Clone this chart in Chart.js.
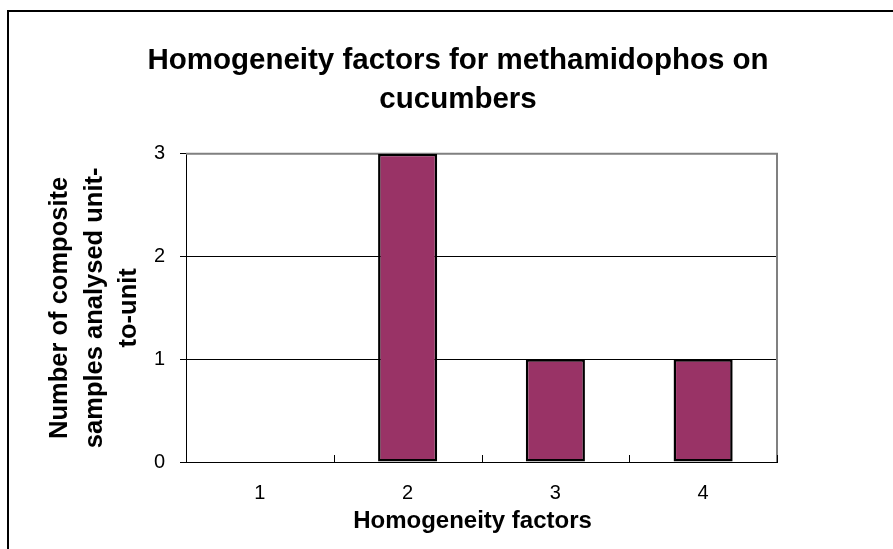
<!DOCTYPE html>
<html lang="en">
<head>
    <meta charset="UTF-8">
    <title>Homogeneity factors</title>
    <script src="https://cdn.jsdelivr.net/npm/chart.js"></script>
    <style>
        html, body { margin: 0; padding: 0; background: #fff; overflow: hidden; }
        /* outer frame of the chart object */
        #frame {
            position: absolute; left: 7px; top: 10px;
            width: 2000px; height: 2000px;
            border: 2px solid #000;
        }
        #myChart { position: absolute; left: 0; top: 0; }
    </style>
</head>
<body>
    <div id="frame"></div>
    <canvas id="myChart" width="893" height="549"></canvas>

    <script>
        // data
        const categories = ['1', '2', '3', '4'];
        const counts = [0, 3, 1, 1];
        const yTicks = [0, 1, 2, 3];

        const titleLines = ['Homogeneity factors for methamidophos on', 'cucumbers'];
        const xTitle = 'Homogeneity factors';
        const yTitleLines = ['Number of composite', 'samples analysed unit-', 'to-unit'];

        const FONT = 'Arial, "Liberation Sans", sans-serif';

        // gray plot border (top/right), inner tick marks between categories, x axis title
        const plotFrame = {
            id: 'plotFrame',
            beforeDatasetsDraw(chart) {
                const { ctx, chartArea: a } = chart;
                const xs = chart.scales.x;
                ctx.save();
                ctx.strokeStyle = '#808080';
                ctx.lineWidth = 2;
                ctx.beginPath();
                ctx.moveTo(a.left, a.top);
                ctx.lineTo(a.right, a.top);
                ctx.lineTo(a.right, a.bottom);
                ctx.stroke();

                ctx.strokeStyle = '#000';
                ctx.lineWidth = 1;
                const n = categories.length;
                const step = xs.getPixelForValue(1) - xs.getPixelForValue(0);
                ctx.beginPath();
                for (let i = 0; i <= n; i++) {
                    const x = Math.round(xs.getPixelForValue(0) - step / 2 + i * step) + 0.5;
                    ctx.moveTo(x, a.bottom);
                    ctx.lineTo(x, a.bottom - 7);
                }
                ctx.stroke();
                ctx.restore();
            },
            afterDraw(chart) {
                const { ctx, chartArea: a } = chart;
                ctx.save();
                ctx.fillStyle = '#000';
                ctx.font = 'bold 24px ' + FONT;
                ctx.textAlign = 'center';
                ctx.textBaseline = 'middle';
                ctx.fillText(xTitle, (a.left + a.right) / 2 - 9, a.bottom + 59);
                ctx.restore();
            }
        };

        const ctx = document.getElementById('myChart').getContext('2d');
        const myChart = new Chart(ctx, {
            type: 'bar',
            data: {
                labels: categories,
                datasets: [{
                    data: counts,
                    backgroundColor: '#993366',
                    borderColor: '#000',
                    borderWidth: 2.5,
                    borderSkipped: false,
                    barPercentage: 0.4,
                    categoryPercentage: 1
                }]
            },
            options: {
                responsive: false,
                animation: false,
                layout: { padding: { left: 23, right: 0, top: 0, bottom: 0 } },
                plugins: {
                    legend: { display: false },
                    tooltip: { enabled: false },
                    title: {
                        display: true,
                        text: titleLines,
                        color: '#000',
                        font: { family: FONT, size: 29.5, weight: 'bold', lineHeight: 1.3 },
                        padding: { top: 42, bottom: 35 }
                    }
                },
                scales: {
                    x: {
                        grid: { display: true, drawOnChartArea: false, drawTicks: false },
                        border: { color: '#000', width: 1 },
                        ticks: { color: '#000', padding: 19, font: { family: FONT, size: 20 } },
                        afterFit(scale) { scale.height = 87; }
                    },
                    y: {
                        min: 0,
                        max: 3,
                        afterBuildTicks(scale) { scale.ticks = yTicks.map(v => ({ value: v })); },
                        grid: { color: '#000', lineWidth: 1, drawTicks: true, tickLength: 6 },
                        border: { color: '#000', width: 1 },
                        ticks: { color: '#000', padding: 15, font: { family: FONT, size: 20 } },
                        title: {
                            display: true,
                            text: yTitleLines,
                            color: '#000',
                            font: { family: FONT, size: 25.5, weight: 'bold', lineHeight: 1.35 },
                            padding: { top: 20, bottom: 0 }
                        },
                        afterFit(scale) { scale.width = 163; }
                    },
                    // empty right-hand box that holds the space right of the plot
                    yRight: {
                        position: 'right',
                        display: true,
                        grid: { display: false },
                        border: { display: false },
                        ticks: { display: false },
                        afterFit(scale) { scale.width = 116; }
                    }
                }
            },
            plugins: [plotFrame]
        });
    </script>
</body>
</html>
